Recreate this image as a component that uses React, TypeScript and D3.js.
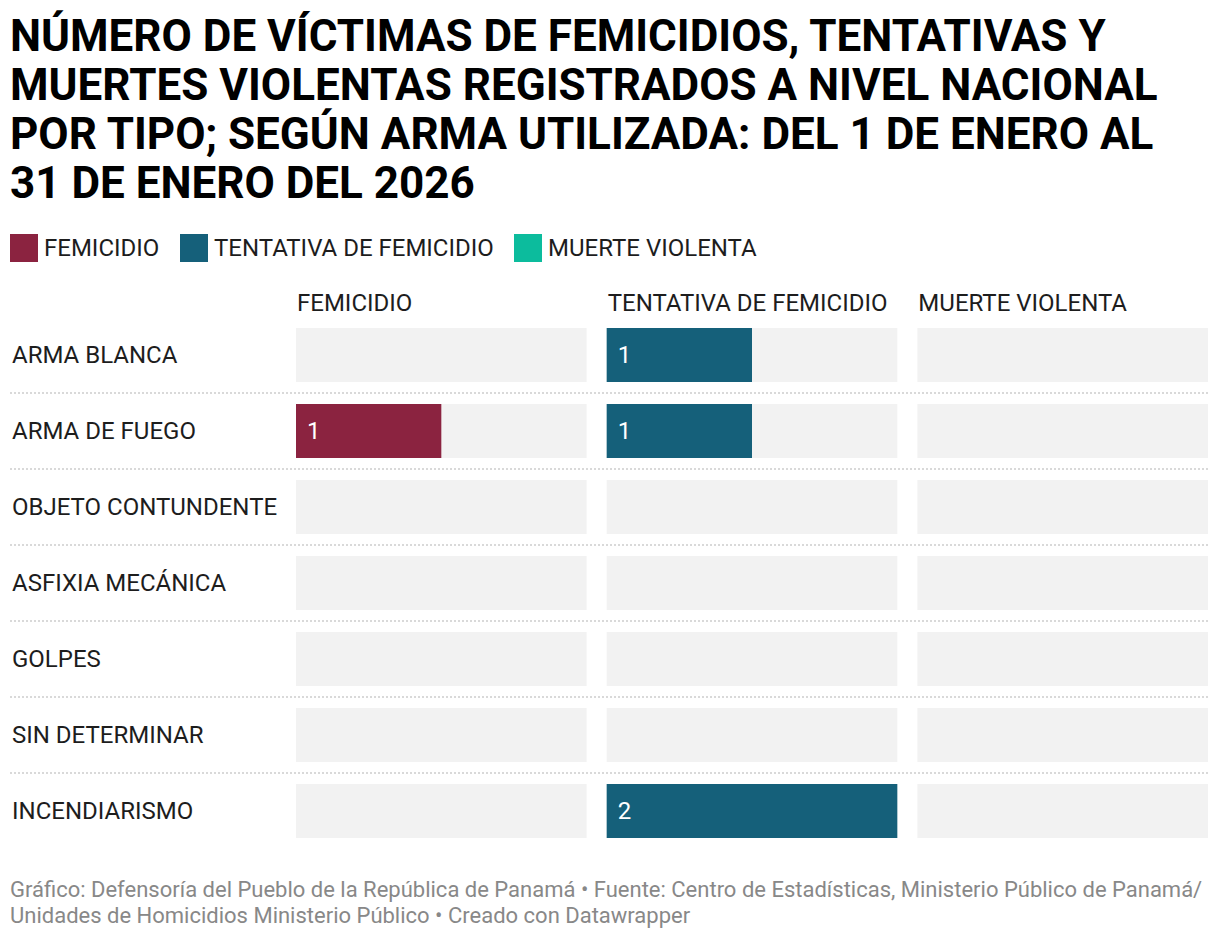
import * as d3 from 'd3';
import React, { useEffect, useRef } from 'react';

const categories = [
  'ARMA BLANCA',
  'ARMA DE FUEGO',
  'OBJETO CONTUNDENTE',
  'ASFIXIA MECÁNICA',
  'GOLPES',
  'SIN DETERMINAR',
  'INCENDIARISMO',
];
const seriesNames = ['FEMICIDIO', 'TENTATIVA DE FEMICIDIO', 'MUERTE VIOLENTA'];
const seriesColors = ['#8b2340', '#15607a', '#0cbc9d'];
const femicidio = [0, 1, 0, 0, 0, 0, 0];
const tentativa = [1, 1, 0, 0, 0, 0, 2];
const muerteViolenta = [0, 0, 0, 0, 0, 0, 0];
const seriesValues = [femicidio, tentativa, muerteViolenta];
const titleLines = [
  'NÚMERO DE VÍCTIMAS DE FEMICIDIOS, TENTATIVAS Y',
  'MUERTES VIOLENTAS REGISTRADOS A NIVEL NACIONAL',
  'POR TIPO; SEGÚN ARMA UTILIZADA: DEL 1 DE ENERO AL',
  '31 DE ENERO DEL 2026',
];
const footerLines = [
  'Gráfico: Defensoría del Pueblo de la República de Panamá • Fuente: Centro de Estadísticas, Ministerio Público de Panamá/',
  'Unidades de Homicidios Ministerio Público • Creado con Datawrapper',
];

const width = 1220;
const height = 940;
const font = 'Roboto, "Noto Sans", sans-serif';

const App: React.FC = () => {
  const ref = useRef<SVGSVGElement | null>(null);

  useEffect(() => {
    if (!ref.current) return;
    const svg = d3.select(ref.current);
    svg.selectAll('*').remove();

    svg.append('rect').attr('width', width).attr('height', height).attr('fill', '#fff');

    // Title
    svg
      .append('g')
      .selectAll('text')
      .data(titleLines)
      .enter()
      .append('text')
      .attr('x', 10)
      .attr('y', (_, i) => 51 + i * 49)
      .style('font-family', font)
      .style('font-size', '44px')
      .style('font-weight', 'bold')
      .attr('fill', '#000')
      .text((d) => d);

    // Legend
    const legendX = [10, 180, 514];
    const legend = svg.append('g');
    seriesNames.forEach((name, i) => {
      legend
        .append('rect')
        .attr('x', legendX[i])
        .attr('y', 234)
        .attr('width', 28)
        .attr('height', 28)
        .attr('fill', seriesColors[i]);
      legend
        .append('text')
        .attr('x', legendX[i] + 34)
        .attr('y', 256)
        .style('font-family', font)
        .style('font-size', '24px')
        .attr('fill', '#1d1d1d')
        .text(name);
    });

    const yScale = d3
      .scaleBand()
      .domain(categories)
      .range([317, 849])
      .paddingInner(22 / 76)
      .paddingOuter(11 / 76);

    const colScale = d3
      .scaleBand()
      .domain(seriesNames)
      .range([296, 1208])
      .paddingInner(20 / 310);

    const xScale = d3.scaleLinear().domain([0, 2]).range([0, colScale.bandwidth()]);

    // Row separators
    svg
      .append('g')
      .selectAll('line')
      .data(categories.slice(1))
      .enter()
      .append('line')
      .attr('x1', 10)
      .attr('x2', 1208)
      .attr('y1', (d) => (yScale(d) ?? 0) - 11)
      .attr('y2', (d) => (yScale(d) ?? 0) - 11)
      .attr('stroke', '#d9d9d9')
      .attr('stroke-width', 2)
      .attr('stroke-dasharray', '2,2');

    // Row labels
    svg
      .append('g')
      .selectAll('text')
      .data(categories)
      .enter()
      .append('text')
      .attr('x', 12)
      .attr('y', (d) => (yScale(d) ?? 0) + yScale.bandwidth() / 2)
      .attr('dy', '0.35em')
      .style('font-family', font)
      .style('font-size', '24px')
      .attr('fill', '#1d1d1d')
      .text((d) => d);

    seriesNames.forEach((name, si) => {
      const x0 = colScale(name) ?? 0;
      // Column header
      svg
        .append('text')
        .attr('x', x0 + 1)
        .attr('y', 311)
        .style('font-family', font)
        .style('font-size', '24px')
        .attr('fill', '#1d1d1d')
        .text(name);

      const g = svg.append('g');
      // Background
      g.selectAll('rect.bg')
        .data(categories)
        .enter()
        .append('rect')
        .attr('class', 'bg')
        .attr('x', x0)
        .attr('y', (d) => yScale(d) ?? 0)
        .attr('width', colScale.bandwidth())
        .attr('height', yScale.bandwidth())
        .attr('fill', '#f2f2f2');

      const vals = seriesValues[si];
      g.selectAll('rect.bar')
        .data(categories)
        .enter()
        .append('rect')
        .attr('class', 'bar')
        .attr('x', x0)
        .attr('y', (d) => yScale(d) ?? 0)
        .attr('width', (_, i) => xScale(vals[i]))
        .attr('height', yScale.bandwidth())
        .attr('fill', seriesColors[si]);

      g.selectAll('text')
        .data(categories)
        .enter()
        .append('text')
        .attr('x', x0 + 11)
        .attr('y', (d) => (yScale(d) ?? 0) + yScale.bandwidth() / 2)
        .attr('dy', '0.35em')
        .style('font-family', font)
        .style('font-size', '24px')
        .attr('fill', '#fff')
        .text((_, i) => (vals[i] > 0 ? vals[i] : ''));
    });

    // Footer
    svg
      .append('g')
      .selectAll('text')
      .data(footerLines)
      .enter()
      .append('text')
      .attr('x', 10)
      .attr('y', (_, i) => 897 + i * 26)
      .style('font-family', font)
      .style('font-size', '22px')
      .attr('fill', '#888')
      .text((d) => d);
  }, []);

  return (
    <svg
      ref={ref}
      width={width}
      height={height}
      style={{ position: 'absolute', left: 0, top: 0 }}
    ></svg>
  );
};

export default App;
